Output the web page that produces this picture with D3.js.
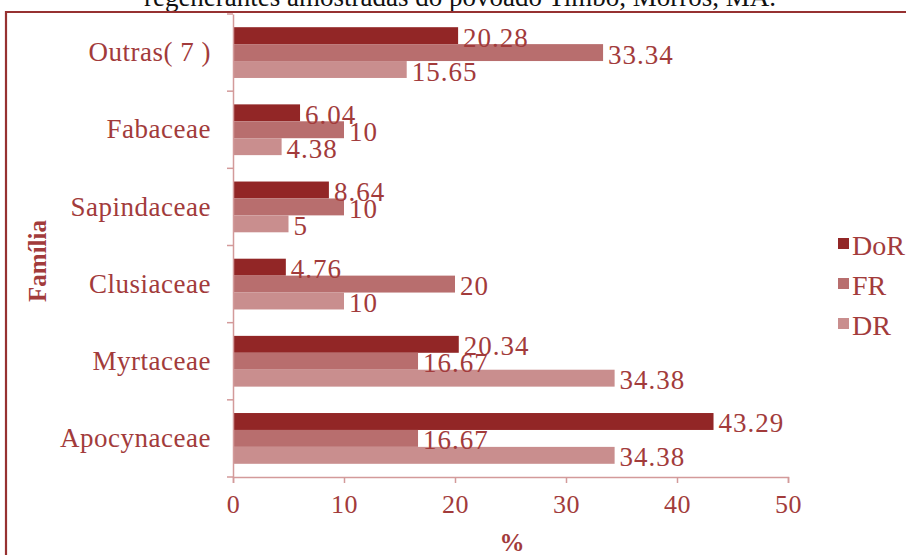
<!DOCTYPE html>
<html>
<head>
<meta charset="utf-8">
<script src="https://cdn.jsdelivr.net/npm/d3@7"></script>
<style>
  html, body { margin: 0; padding: 0; background: #fff; }
  svg { display: block; }
  text { font-family: "Liberation Serif", "Times New Roman", serif; }
</style>
</head>
<body>
<svg id="chart" width="906" height="555"></svg>
<script>
// Families, top to bottom
const categories = ["Outras( 7 )", "Fabaceae", "Sapindaceae", "Clusiaceae", "Myrtaceae", "Apocynaceae"];
// Series (%): dominância relativa, frequência relativa, densidade relativa
const seriesNames = ["DoR", "FR", "DR"];
const doR = [20.28, 6.04, 8.64, 4.76, 20.34, 43.29];
const fR  = [33.34, 10, 10, 20, 16.67, 16.67];
const dR  = [15.65, 4.38, 5, 10, 34.38, 34.38];
const xTicks = [0, 10, 20, 30, 40, 50];
const titleText = "regenerantes amostradas do povoado Timbó, Morros, MA.";

const colors = { DoR: "#922626", FR: "#b86e6e", DR: "#c98e8e" };
const textColor = "#a23b3b";
const axisColor = "#d39a9a";

const svg = d3.select("#chart");

// Caption line (partly outside the view) and frame
svg.append("text")
  .attr("x", 460).attr("y", 6)
  .attr("text-anchor", "middle")
  .attr("fill", "#111")
  .style("font-size", "27px")
  .text(titleText);

svg.append("path")
  .attr("d", "M6,555 L6,12 L906,12")
  .attr("fill", "none")
  .attr("stroke", "#963131")
  .attr("stroke-width", 2.2);

const x = d3.scaleLinear().domain([0, 50]).range([233, 788]);
const y0 = d3.scaleBand().domain(categories).range([14, 477]).paddingInner(0).paddingOuter(0);
const y1 = d3.scaleBand().domain(seriesNames).range([0, y0.bandwidth()]).paddingInner(0).paddingOuter(0.78);

const rows = categories.map((c, i) => ({
  cat: c,
  vals: [
    { key: "DoR", v: doR[i] },
    { key: "FR", v: fR[i] },
    { key: "DR", v: dR[i] }
  ]
}));

const g = svg.append("g");
const groups = g.selectAll("g.cat").data(rows).join("g")
  .attr("class", "cat")
  .attr("transform", d => `translate(0,${y0(d.cat)})`);

groups.selectAll("rect").data(d => d.vals).join("rect")
  .attr("x", x(0))
  .attr("y", d => y1(d.key))
  .attr("width", d => x(d.v) - x(0))
  .attr("height", y1.bandwidth())
  .attr("fill", d => colors[d.key]);

groups.selectAll("text.val").data(d => d.vals).join("text")
  .attr("class", "val")
  .attr("x", d => x(d.v) + 5)
  .attr("y", d => y1(d.key) + y1.bandwidth() / 2 + 2)
  .attr("dominant-baseline", "central")
  .attr("fill", textColor)
  .style("font-size", "27px")
  .style("letter-spacing", "1px")
  .text(d => String(d.v));

// Y axis
const yAxis = d3.axisLeft(y0).tickSize(0).tickPadding(22);
const yg = svg.append("g").attr("transform", `translate(${x(0)},0)`).call(yAxis);
yg.select(".domain").attr("stroke", axisColor).attr("stroke-width", 1.5);
yg.selectAll(".tick text")
  .attr("fill", textColor)
  .style("font-size", "27px")
  .style("letter-spacing", "0.5px")
  .style("font-family", "Liberation Serif, serif");
// boundary ticks between families
const bounds = categories.map(c => y0(c)).concat([y0.range()[1]]);
svg.append("g").selectAll("line").data(bounds).join("line")
  .attr("x1", x(0) - 6).attr("x2", x(0))
  .attr("y1", d => d).attr("y2", d => d)
  .attr("stroke", axisColor).attr("stroke-width", 1.5);

// X axis
const xAxis = d3.axisBottom(x).tickValues(xTicks).tickSize(6).tickPadding(12).tickFormat(d3.format("d"));
const xg = svg.append("g").attr("transform", `translate(0,477)`).call(xAxis);
xg.select(".domain").attr("stroke", axisColor).attr("stroke-width", 1.5);
xg.selectAll(".tick line").attr("stroke", axisColor).attr("stroke-width", 1.5);
xg.selectAll(".tick text")
  .attr("fill", textColor)
  .style("font-size", "26px")
  .style("letter-spacing", "0.5px")
  .style("font-family", "Liberation Serif, serif");

// Axis titles
svg.append("text")
  .attr("x", 512).attr("y", 551)
  .attr("text-anchor", "middle")
  .attr("fill", textColor)
  .style("font-size", "25px").style("font-weight", "bold")
  .text("%");

svg.append("text")
  .attr("transform", "translate(46,261) rotate(-90)")
  .attr("text-anchor", "middle")
  .attr("fill", textColor)
  .style("font-size", "25px").style("font-weight", "bold")
  .text("Família");

// Legend
const legend = svg.append("g").attr("transform", "translate(838,244)");
const li = legend.selectAll("g").data(seriesNames).join("g")
  .attr("transform", (d, i) => `translate(0,${i * 40})`);
li.append("rect")
  .attr("x", 0).attr("y", -6).attr("width", 11).attr("height", 11)
  .attr("fill", d => colors[d]);
li.append("text")
  .attr("x", 14).attr("y", 1)
  .attr("dominant-baseline", "central")
  .attr("fill", textColor)
  .style("font-size", "28px")
  .text(d => d);
</script>
</body>
</html>
